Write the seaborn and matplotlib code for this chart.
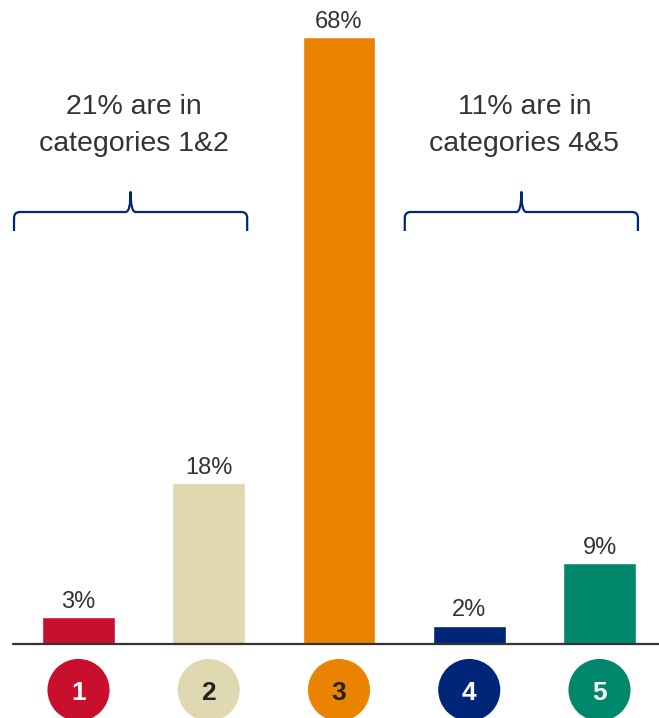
import matplotlib
matplotlib.use("Agg")
import matplotlib.pyplot as plt
from matplotlib.path import Path
from matplotlib.patches import PathPatch
import seaborn as sns
import pandas as pd

# Share of respondents in each category
categories = ["1", "2", "3", "4", "5"]
shares = [3, 18, 68, 2, 9]
bar_colors = ["#C8102E", "#E0D8B0", "#E98300", "#002677", "#00876C"]
badge_text_colors = ["white", "#222222", "#222222", "white", "white"]

# Grouped callouts: (first index, last index, text)
groups = [
    (0, 1, "21% are in\ncategories 1&2"),
    (3, 4, "11% are in\ncategories 4&5"),
]

sns.set_theme(style="white")
plt.rcParams["font.family"] = ["Liberation Sans", "DejaVu Sans"]

W, H, DPI = 659, 718, 100
fig = plt.figure(figsize=(W / DPI, H / DPI), dpi=DPI)

# geometry in pixels
x0_px, step_px = 78.5, 130.25          # first bar centre, bar spacing
base_px = 643.5                         # baseline from top
ymax = 72.15
ax = fig.add_axes([0, (H - base_px) / H, 1, base_px / H])
px_y = ymax / base_px                   # data units per pixel (y)
px_x = 1 / step_px                      # data units per pixel (x)

df = pd.DataFrame({"category": categories, "share": shares})
sns.barplot(data=df, x="category", y="share", hue="category",
            palette=bar_colors, width=0.56, saturation=1, legend=False, ax=ax)

ax.set_xlim(-x0_px / step_px, (W - x0_px) / step_px)
ax.set_ylim(0, ymax)
ax.axis("off")

# value labels
for cont in ax.containers:
    ax.bar_label(cont, labels=[f"{v:.0f}%" for v in cont.datavalues],
                 padding=3, fontsize=17, color="#333333")

# baseline
ax.axhline(0, xmin=13 / W, xmax=1, color="#333333", lw=1.6, clip_on=False)

# numbered badges under the axis
badge_y = -(690 - base_px) * px_y
ax.scatter(range(len(categories)), [badge_y] * len(categories), s=2000,
           c=bar_colors, clip_on=False, zorder=3, linewidths=0)
for i, (lab, tc) in enumerate(zip(categories, badge_text_colors)):
    ax.text(i, badge_y, lab, ha="center", va="center_baseline",
            fontsize=19, fontweight="bold", color=tc, zorder=4,
            clip_on=False)


def brace(ax, xa, xb, xm, y_bar, y_end, y_tip, color):
    r = 6 * px_x
    ry = 6 * px_y
    c = 5 * px_x
    verts = [
        (xa, y_end), (xa, y_bar - ry), (xa, y_bar), (xa + r, y_bar),
        (xm - c, y_bar), (xm, y_bar), (xm, y_tip),
        (xm, y_bar), (xm + c, y_bar),
        (xb - r, y_bar), (xb, y_bar), (xb, y_bar - ry), (xb, y_end),
    ]
    codes = [Path.MOVETO, Path.LINETO, Path.CURVE3, Path.CURVE3,
             Path.LINETO, Path.CURVE3, Path.CURVE3,
             Path.CURVE3, Path.CURVE3,
             Path.LINETO, Path.CURVE3, Path.CURVE3, Path.LINETO]
    ax.add_patch(PathPatch(Path(verts, codes), fill=False, edgecolor=color,
                           lw=1.6, capstyle="butt", joinstyle="round",
                           clip_on=False))


y_bar = (base_px - 212) * px_y
y_end = (base_px - 231) * px_y
y_tip = (base_px - 192) * px_y
y_text = (base_px - 125.5) * px_y
for first, last, text in groups:
    xa = first - 0.495
    xb = last + 0.295
    xm = (xa + xb) / 2
    brace(ax, xa, xb, xm, y_bar, y_end, y_tip, "#002677")
    ax.text(xm + 3 * px_x, y_text, text, ha="center", va="center",
            fontsize=20.5, color="#333333", linespacing=1.55)

fig.savefig("out.png", dpi=DPI)
